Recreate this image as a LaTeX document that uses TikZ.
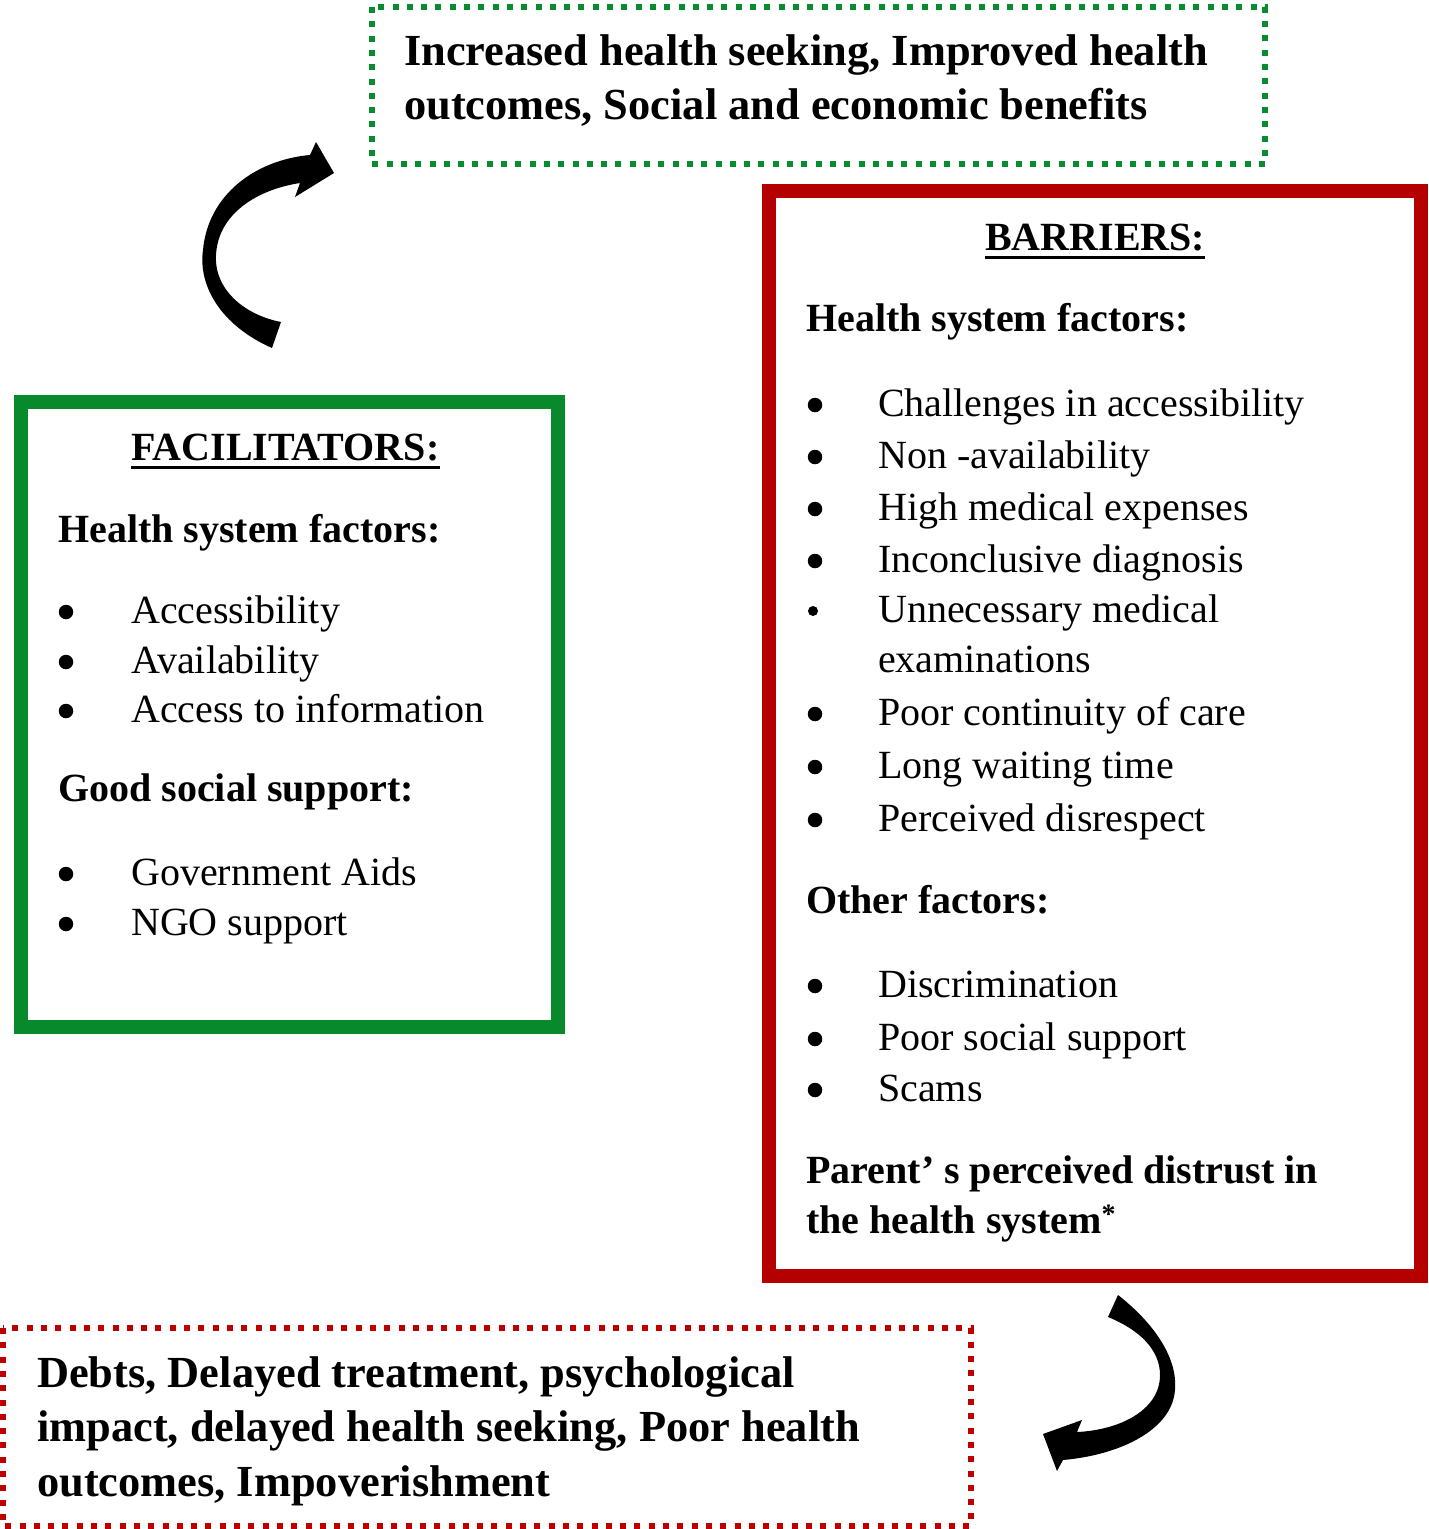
\documentclass[tikz,border=0pt]{standalone}
\usepackage{fontspec}
\setmainfont{Liberation Serif}
\definecolor{fgreen}{RGB}{8,138,44}
\definecolor{dgreen}{RGB}{8,140,48}
\definecolor{bred}{RGB}{180,0,0}
\definecolor{dred}{RGB}{188,0,0}
\begin{document}
\begin{tikzpicture}[x=1pt,y=-1pt,
  txt/.style={anchor=base west,inner sep=0pt,font=\fontsize{40}{52}\selectfont},
  btxt/.style={anchor=base west,inner sep=0pt,font=\fontsize{40}{52}\selectfont\bfseries},
  bigtxt/.style={anchor=base west,inner sep=0pt,font=\fontsize{44.4}{54}\selectfont\bfseries},
  bul/.style={circle,fill=black,inner sep=0pt,minimum size=14.5pt,yshift=11pt},
  smallbul/.style={circle,fill=black,inner sep=0pt,minimum size=10pt,yshift=11pt},
  solidbox/.style={line width=14pt,line join=miter},
  dotbox/.style={line width=6pt,dash pattern=on 6pt off 8.3pt,line cap=butt},
  ul/.style={line width=3pt}
  ]
\useasboundingbox (0,0) rectangle (1429,1529);

% ---------- boxes ----------
\draw[dotbox,draw=dgreen] (372,7) rectangle (1265,164);
\draw[solidbox,draw=fgreen] (21,402) rectangle (558,1027);
\draw[solidbox,draw=bred] (769,191) rectangle (1421,1276);
\draw[dotbox,draw=dred] (3,1328) rectangle (971,1526);

% ---------- top outcome ----------
\node[bigtxt] (o1) at (404,65) {Increased health seeking, Improved health};
\node[bigtxt] (o2) at (404,119) {outcomes, Social and economic benefits};

% ---------- bottom outcome ----------
\node[bigtxt] (n1) at (37,1387) {Debts, Delayed treatment, psychological};
\node[bigtxt] (n2) at (37,1441) {impact, delayed health seeking, Poor health};
\node[bigtxt] (n3) at (37,1496) {outcomes, Impoverishment};

% ---------- facilitators ----------
\node[btxt] (ftitle) at (131,460) {FACILITATORS:};
\draw[ul] ([yshift=-7pt]ftitle.base west) -- ([yshift=-7pt]ftitle.base east);
\node[btxt] (fh1) at (58,542) {Health system factors:};
\foreach \y/\t [count=\i] in {623/Accessibility,673/Availability,722/Access to information}{
  \node[bul] (fb\i) at (66,\y) {};
  \node[txt] (ft\i) at (131,\y) {\t};
}
\node[btxt] (fh2) at (58,801) {Good social support:};
\foreach \y/\t [count=\i] in {885/Government Aids,935/NGO support}{
  \node[bul] (fc\i) at (66,\y) {};
  \node[txt] (fs\i) at (131,\y) {\t};
}

% ---------- barriers ----------
\node[btxt] (btitle) at (985,250) {BARRIERS:};
\draw[ul] ([yshift=-7pt]btitle.base west) -- ([yshift=-7pt]btitle.base east);
\node[btxt] (bh1) at (806,331) {Health system factors:};
\foreach \y/\t [count=\i] in {416/Challenges in accessibility,468/Non -availability,520/High medical expenses,572/Inconclusive diagnosis}{
  \node[bul] (bb\i) at (815,\y) {};
  \node[txt] (bt\i) at (878,\y) {\t};
}
\node[smallbul] (bb5) at (813,622) {};
\node[txt] (bt5) at (878,622) {Unnecessary medical};
\node[txt] (bt5b) at (878,672) {examinations};
\foreach \y/\t [count=\i from 6] in {725/Poor continuity of care,778/Long waiting time,831/Perceived disrespect}{
  \node[bul] (bb\i) at (815,\y) {};
  \node[txt] (bt\i) at (878,\y) {\t};
}
\node[btxt] (bh2) at (806,913) {Other factors:};
\foreach \y/\t [count=\i] in {997/Discrimination,1050/Poor social support,1101/Scams}{
  \node[bul] (bo\i) at (815,\y) {};
  \node[txt] (bx\i) at (878,\y) {\t};
}
\node[btxt] (bp1) at (806,1183) {Parent’ s perceived distrust in};
\node[btxt] (bp2) at (806,1233) {the health system\textsuperscript{*}};

% ---------- curved arrows ----------
\fill[black] (272,348) .. controls (220,325) and (198,285) .. (203,250)
  .. controls (208,195) and (255,160) .. (310,155)
  -- (316,142) -- (334,173) -- (295,197) -- (300,183)
  .. controls (255,190) and (218,215) .. (216,255)
  .. controls (214,290) and (245,315) .. (281,322) -- cycle;

\fill[black] (1118,1295) .. controls (1150,1320) and (1178,1355) .. (1175,1390)
  .. controls (1172,1430) and (1120,1455) .. (1063,1460)
  -- (1057,1471) -- (1043,1434) -- (1082,1420) -- (1077,1432)
  .. controls (1120,1430) and (1160,1410) .. (1160,1375)
  .. controls (1160,1350) and (1140,1330) .. (1108,1317) -- cycle;
\end{tikzpicture}
\end{document}
